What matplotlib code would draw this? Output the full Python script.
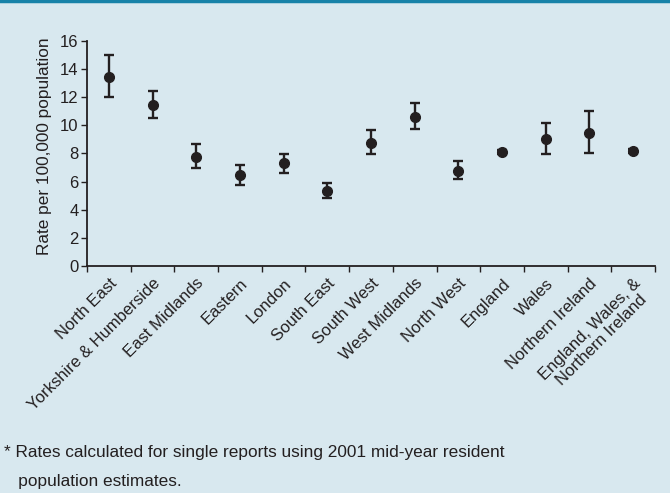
import numpy as np
import matplotlib

matplotlib.use("Agg")
import matplotlib.pyplot as plt

plt.rcParams["font.family"] = ["Liberation Sans", "DejaVu Sans"]

# Rate per 100,000 population with 95% interval
regions = ["North East", "Yorkshire & Humberside", "East Midlands", "Eastern",
           "London", "South East", "South West", "West Midlands", "North West",
           "England", "Wales", "Northern Ireland",
           "England, Wales, &\nNorthern Ireland"]
rate = [13.4, 11.45, 7.75, 6.43, 7.28, 5.33, 8.75, 10.6, 6.78, 8.09, 9.01, 9.42, 8.18]
upper = [14.98, 12.45, 8.66, 7.14, 7.94, 5.88, 9.63, 11.55, 7.45, 8.25, 10.15, 11.02, 8.3]
lower = [12.02, 10.53, 6.95, 5.76, 6.64, 4.86, 7.92, 9.74, 6.17, 7.93, 7.92, 8.0, 8.05]
yticks = [0, 2, 4, 6, 8, 10, 12, 14, 16]
note = ("* Rates calculated for single reports using 2001 mid-year resident\n"
        "   population estimates.")

bg = "#d8e8ef"
ink = "#231f20"

rate = np.array(rate)
err = np.vstack([rate - np.array(lower), np.array(upper) - rate])
x = np.arange(len(regions))

fig = plt.figure(figsize=(6.7, 4.93), dpi=100, facecolor=bg)
ax = fig.add_axes([87 / 670, 1 - 266 / 493, 568 / 670, 225.3 / 493])
ax.set_facecolor(bg)

ax.errorbar(x, rate, yerr=err, fmt="o", color=ink, ms=7, elinewidth=1.7,
            capsize=3.6, capthick=1.7)

ax.set_xlim(-0.5, len(regions) - 0.5)
ax.set_ylim(0, 16)
ax.set_yticks(yticks)
ax.tick_params(axis="y", direction="out", length=4, width=1, labelsize=12,
               colors=ink, pad=2)
ax.set_ylabel("Rate per 100,000 population", fontsize=12.4, color=ink)
ax.yaxis.set_label_coords(-0.062, 0.53)

# ticks between categories, labels at category centres
ax.set_xticks(np.arange(len(regions) + 1) - 0.5)
ax.set_xticklabels([])
ax.tick_params(axis="x", direction="out", length=4, width=1, colors=ink)
ax.set_xticks(x, minor=True)
ax.set_xticklabels(regions, minor=True, rotation=45, ha="right",
                   rotation_mode="anchor", fontsize=12, color=ink,
                   linespacing=1.05, multialignment="center")
ax.tick_params(axis="x", which="minor", length=0, pad=7)

for s in ["top", "right"]:
    ax.spines[s].set_visible(False)
for s in ["left", "bottom"]:
    ax.spines[s].set_color(ink)
    ax.spines[s].set_linewidth(1.3)

fig.text(4 / 670, 1 - 445 / 493, note, fontsize=12.4, color=ink, va="top",
         linespacing=2.15)

# dark rule along the top edge
fig.add_artist(plt.Line2D([0, 1], [0.997, 0.997], transform=fig.transFigure,
                          color="#1782a8", lw=2.5))

fig.savefig("out.png", dpi=100, facecolor=bg)
